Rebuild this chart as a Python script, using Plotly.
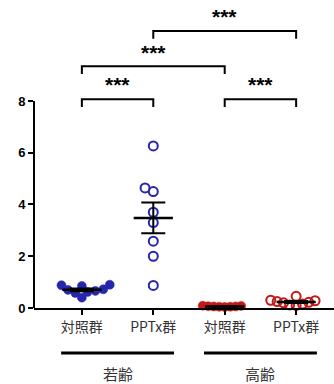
import numpy as np
import plotly.graph_objects as go

# ---- data ----
categories = ["対照群", "PPTx群", "対照群", "PPTx群"]
age_groups = ["若齢", "高齢"]
young_ctrl = [0.72, 0.88, 0.62, 0.90, 0.58, 0.66, 0.85, 0.40, 0.70]
young_pptx = [6.26, 4.64, 4.50, 3.70, 3.30, 2.58, 2.00, 0.87]
old_ctrl = [0.06, 0.08, 0.05, 0.07, 0.04, 0.06, 0.09, 0.05]
old_pptx = [0.45, 0.30, 0.25, 0.20, 0.15, 0.12, 0.10, 0.22, 0.28]
y_ticks = [0, 2, 4, 6, 8]
# significance comparisons: (group a, group b, label)
comparisons = [(0, 1, "***"), (2, 3, "***"), (0, 2, "***"), (1, 3, "***")]

W, H = 334, 384
L, R, T, B = 34, 0, 0, 76
XR = [-0.67, 3.53]
YR = [0, 11.9]
px_x = (W - L - R) / (XR[1] - XR[0])
px_y = (H - T - B) / (YR[1] - YR[0])

BLUE = "#2626ad"
RED = "#c41818"


def beeswarm(vals, d=6.0):
    order = np.argsort(vals)
    placed = []
    offs = [0.0] * len(vals)
    for i in order:
        yv = vals[i] * px_y
        cands = [0.0]
        for (xp, yp) in placed:
            dy = yv - yp
            if abs(dy) < d:
                dx = np.sqrt(d * d - dy * dy)
                cands += [xp + dx, xp - dx]
        cands.sort(key=lambda c: (abs(c), c))
        for c in cands:
            ok = all((c - xp) ** 2 + (yv - yp) ** 2 >= d * d - 1e-6 for xp, yp in placed)
            if ok:
                placed.append((c, yv))
                offs[i] = c / px_x
                break
    return offs


series = [
    (young_ctrl, BLUE, True),
    (young_pptx, BLUE, False),
    (old_ctrl, RED, True),
    (old_pptx, RED, False),
]
swarm_d = [8.0, 9.0, 5.5, 6.5]

fig = go.Figure()
for gi, (vals, col, filled) in enumerate(series):
    offs = beeswarm(vals, d=swarm_d[gi])
    fig.add_trace(go.Scatter(
        x=[gi + o for o in offs], y=vals, mode="markers", cliponaxis=False,
        marker=dict(size=9,
                    color=col if filled else "rgba(0,0,0,0)",
                    line=dict(color=col, width=2 if not filled else 0.5),
                    symbol="circle"),
        showlegend=False, hoverinfo="skip"))

for gi, (vals, col, filled) in enumerate(series):
    v = np.array(vals)
    m = v.mean()
    sem = v.std(ddof=1) / np.sqrt(len(v))
    fig.add_trace(go.Scatter(
        x=[gi], y=[m], mode="markers", cliponaxis=False,
        marker=dict(symbol="line-ew", size=28, line=dict(color="black", width=2.5)),
        error_y=dict(type="data", array=[sem], visible=True, color="black",
                     thickness=2, width=12),
        showlegend=False, hoverinfo="skip"))

# y axis line from 0 to 8
fig.add_shape(type="line", xref="paper", yref="y", x0=0, x1=0, y0=0, y1=y_ticks[-1],
              line=dict(color="black", width=2))

# significance brackets
levels = {(0, 1): 8.07, (2, 3): 8.07, (0, 2): 9.34, (1, 3): 10.7}
for a, b, lab in comparisons:
    yb = levels[(a, b)]
    drop = 0.3
    fig.add_shape(type="path", xref="x", yref="y",
                  path=f"M {a},{yb - drop} L {a},{yb} L {b},{yb} L {b},{yb - drop}",
                  line=dict(color="black", width=2))
    fig.add_annotation(x=(a + b) / 2, y=yb + 0.55, text=f"<b>{lab}</b>", showarrow=False,
                       yanchor="middle", font=dict(size=21, color="black",
                                                   family="Liberation Sans"))

# group lines and labels
for k, name in enumerate(age_groups):
    x0 = 2 * k - 0.29
    x1 = 2 * k + 1 + 0.29
    fig.add_shape(type="line", xref="x", yref="paper", x0=x0, x1=x1,
                  y0=-45 / 308, y1=-45 / 308, line=dict(color="black", width=3))
    fig.add_annotation(x=2 * k + 0.5, xref="x", y=-65 / 308, yref="paper", text=name,
                       showarrow=False, yanchor="middle",
                       font=dict(size=15, color="#333", family="Noto Sans CJK JP"))

fig.update_layout(
    width=W, height=H, margin=dict(l=L, r=R, t=T, b=B, autoexpand=False),
    plot_bgcolor="white", paper_bgcolor="white",
    xaxis=dict(range=XR, tickvals=[0, 1, 2, 3], ticktext=categories, automargin=False,
               showline=True, linecolor="black", linewidth=2, ticks="outside",
               ticklen=5, tickwidth=1.5, tickcolor="black", showgrid=False, zeroline=False,
               tickfont=dict(size=14, color="#333", family="Noto Sans CJK JP")),
    yaxis=dict(range=YR, tickvals=y_ticks, showline=False, ticks="outside", ticklen=5,
               tickwidth=2, tickcolor="black", showgrid=False, zeroline=False, automargin=False,
               tickfont=dict(size=13, color="black", family="Liberation Sans", weight="bold")),
)

fig.write_html("out.html", config={"displayModeBar": False},
               post_script="document.body.style.margin='0';")
